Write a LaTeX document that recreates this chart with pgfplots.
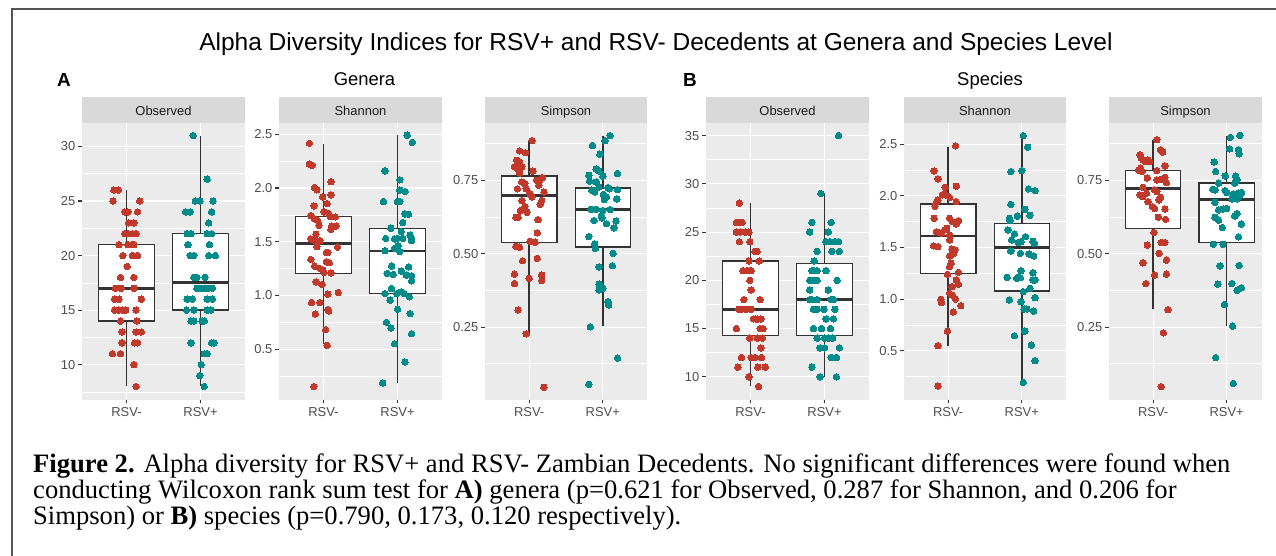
\documentclass[border=0pt]{standalone}
\usepackage{fontspec}
\setmainfont{Liberation Sans}
\newfontfamily\capfont{Liberation Serif}
\usepackage{pgfplots}
\pgfplotsset{compat=1.18}
\usepgfplotslibrary{statistics}
\definecolor{panelbg}{HTML}{EBEBEB}
\definecolor{stripbg}{HTML}{D9D9D9}
\definecolor{striptext}{HTML}{1A1A1A}
\definecolor{labgray}{HTML}{4D4D4D}
\definecolor{tickgray}{HTML}{333333}
\definecolor{boxline}{HTML}{333333}
\definecolor{rsvred}{HTML}{C0392B}
\definecolor{rsvteal}{HTML}{008B8B}
\definecolor{framegray}{HTML}{555555}
\pgfplotsset{
  ggpanel/.style n args={2}{
    scale only axis, width=#1, height=276bp, anchor=north west,
    xmin=0.4, xmax=2.6, xtick={1,2}, xticklabels={RSV-,RSV+},
    axis background/.style={fill=panelbg},
    axis x line*=bottom, axis y line*=left,
    axis line style={draw=panelbg, line width=0.1bp},
    tick align=outside, major tick length=4bp, minor tick length=0pt,
    tick style={draw=tickgray, line width=1.1bp},
    grid=both,
    major grid style={draw=white, line width=1.1bp},
    minor grid style={draw=white, line width=0.55bp},
    tick label style={font=\fontsize{13}{13}\selectfont, text=labgray},
    yticklabel style={anchor=east, inner sep=0pt, xshift=-2.5bp},
    xticklabel style={anchor=north, inner sep=0pt, yshift=-4bp},
    title={#2},
    every axis title/.style={at={(0.5,1)}, anchor=south, fill=stripbg,
      minimum width=#1, minimum height=26bp, inner sep=0pt,
      text height=12bp, text depth=0pt, text=striptext,
      font=\fontsize{13}{13}\selectfont},
  },
  ggbox/.style={draw=boxline, fill=white, line width=1.4bp,
    boxplot/draw direction=y,
    boxplot/box extend=0.75, boxplot/whisker extend=0,
    boxplot/every median/.style={line width=2.9bp}},
  ptred/.style={only marks, mark=*, color=rsvred, mark size=3.25bp, mark options={line width=0pt, fill=rsvred, draw=rsvred}},
  ptteal/.style={only marks, mark=*, color=rsvteal, mark size=3.25bp, mark options={line width=0pt, fill=rsvteal, draw=rsvteal}},
}
\begin{document}
\begin{tikzpicture}
\path[use as bounding box] (0bp,0bp) rectangle (1276bp,-556bp);
\draw[framegray, line width=2bp] (12bp,-570bp) -- (12bp,-9bp) -- (1290bp,-9bp);

\node[anchor=base, font=\fontsize{24.6}{24.6}\selectfont] at (656bp,-50bp)
  {Alpha Diversity Indices for RSV+ and RSV- Decedents at Genera and Species Level};
\node[anchor=base west, font=\fontsize{19}{19}\selectfont\bfseries, inner sep=0pt] at (57bp,-86.5bp) {A};
\node[anchor=base, font=\fontsize{18.5}{18.5}\selectfont] at (364.5bp,-85bp) {Genera};
\node[anchor=base west, font=\fontsize{19}{19}\selectfont\bfseries, inner sep=0pt] at (683bp,-86.5bp) {B};
\node[anchor=base, font=\fontsize{18.5}{18.5}\selectfont] at (990bp,-85bp) {Species};

% ---------- Genera: Observed
\begin{axis}[ggpanel={163bp}{Observed}, at={(82bp,-123bp)},
  ymin=6.85, ymax=32.15, ytick={10,15,20,25,30}, yticklabels={10,15,20,25,30},
  minor ytick={7.5,12.5,17.5,22.5,27.5}]
\addplot[ggbox, boxplot prepared={draw position=1, lower whisker=8, lower quartile=14, median=17, upper quartile=21, upper whisker=26}] coordinates {};
\addplot[ggbox, boxplot prepared={draw position=2, lower whisker=8, lower quartile=15, median=17.5, upper quartile=22, upper whisker=31}] coordinates {};
\addplot[ptred] coordinates {(0.83,26)(0.89,26)(0.82,25)(1.18,25)(0.98,24)(1.02,24)(1.15,24)(1.03,23)(1.10,23)(0.98,22)(1.02,22)(1.08,22)(1.13,22)(0.90,21)(1.02,21)(1.07,21)(1.10,21)(0.95,20)(1.08,20)(1.15,20)(1.01,19)(0.92,18)(1.10,18)(0.85,17)(0.93,17)(1.10,17)(0.84,16)(0.90,16)(1.20,16)(0.84,15)(0.89,15)(0.95,15)(0.99,15)(1.13,15)(0.92,14)(1.14,14)(0.94,13)(1.13,13)(1.20,13)(0.94,12)(1.11,12)(1.15,12)(0.81,11)(0.92,11)(1.10,10)(1.13,8)};
\addplot[ptteal] coordinates {(1.90,31)(2.09,27)(1.93,25)(1.99,25)(2.17,25)(1.80,24)(1.86,24)(2.15,24)(2.11,23)(1.82,22)(1.87,22)(2.09,22)(2.15,22)(1.83,21)(2.12,21)(1.86,20)(1.91,20)(2.11,20)(2.20,20)(1.91,18)(1.95,18)(2.06,18)(1.95,17)(2.00,17)(2.05,17)(2.10,17)(2.16,17)(1.82,16)(1.89,16)(2.09,16)(2.16,16)(1.81,15)(1.91,15)(2.09,15)(2.14,15)(1.87,14)(1.91,14)(2.02,14)(2.05,14)(1.87,12)(2.15,12)(2.18,12)(2.05,11)(2.09,11)(2.01,10)(1.99,9)(2.05,8)};
\end{axis}

% ---------- Genera: Shannon
\begin{axis}[ggpanel={163bp}{Shannon}, at={(279bp,-123bp)},
  ymin=0.035, ymax=2.605, ytick={0.5,1,1.5,2,2.5}, yticklabels={0.5,1.0,1.5,2.0,2.5},
  minor ytick={0.25,0.75,1.25,1.75,2.25}]
\addplot[ggbox, boxplot prepared={draw position=1, lower whisker=0.544, lower quartile=1.201, median=1.481, upper quartile=1.737, upper whisker=2.413}] coordinates {};
\addplot[ggbox, boxplot prepared={draw position=2, lower whisker=0.185, lower quartile=1.017, median=1.413, upper quartile=1.622, upper whisker=2.49}] coordinates {};
\addplot[ptred] coordinates {(0.81,2.416)(0.81,2.223)(0.85,2.210)(1.10,2.058)(0.88,2.005)(0.91,1.983)(0.99,1.917)(1.10,1.936)(1.05,1.855)(0.87,1.833)(1.01,1.777)(1.07,1.762)(1.09,1.734)(0.83,1.743)(0.88,1.712)(0.92,1.699)(1.16,1.731)(0.94,1.653)(1.11,1.646)(1.17,1.646)(1.10,1.615)(0.90,1.569)(0.95,1.509)(0.83,1.525)(0.88,1.512)(0.91,1.453)(1.19,1.450)(1.04,1.400)(1.06,1.400)(0.83,1.335)(1.04,1.313)(1.08,1.304)(0.88,1.273)(0.95,1.251)(0.99,1.235)(1.01,1.213)(1.10,1.210)(0.90,1.126)(0.98,1.101)(1.06,1.011)(1.20,1.027)(0.84,0.933)(0.95,0.933)(0.89,0.827)(1.06,0.868)(1.07,0.855)(1.03,0.681)(1.05,0.535)(0.87,0.151)};
\addplot[ptteal] coordinates {(2.13,2.491)(2.20,2.425)(1.83,2.160)(2.03,2.076)(2.03,1.980)(2.10,1.967)(1.81,1.874)(2.00,1.874)(2.03,1.874)(2.10,1.759)(2.15,1.755)(2.07,1.678)(1.91,1.625)(2.05,1.594)(2.17,1.562)(2.19,1.531)(2.19,1.509)(1.84,1.531)(1.96,1.525)(2.00,1.531)(2.07,1.531)(2.01,1.463)(1.96,1.438)(1.83,1.416)(2.03,1.407)(1.92,1.273)(2.15,1.266)(1.86,1.204)(1.94,1.195)(2.05,1.226)(2.12,1.188)(2.19,1.182)(2.19,1.135)(1.92,1.064)(1.83,1.017)(1.99,1.017)(2.05,1.033)(2.09,1.017)(2.16,0.986)(1.90,0.955)(2.00,0.871)(2.17,0.830)(1.85,0.749)(1.91,0.696)(2.19,0.643)(1.96,0.550)(2.10,0.379)(1.80,0.185)};
\end{axis}

% ---------- Genera: Simpson
\begin{axis}[ggpanel={162bp}{Simpson}, at={(485bp,-123bp)},
  ymin=0.005, ymax=0.945, ytick={0.25,0.5,0.75}, yticklabels={0.25,0.50,0.75},
  minor ytick={0.125,0.375,0.625,0.875}]
\addplot[ggbox, boxplot prepared={draw position=1, lower whisker=0.225, lower quartile=0.539, median=0.697, upper quartile=0.765, upper whisker=0.887}] coordinates {};
\addplot[ggbox, boxplot prepared={draw position=2, lower whisker=0.253, lower quartile=0.522, median=0.651, upper quartile=0.724, upper whisker=0.901}] coordinates {};
\addplot[ptred] coordinates {(1.04,0.885)(0.87,0.850)(0.95,0.844)(0.83,0.818)(0.87,0.813)(0.80,0.796)(0.84,0.790)(0.86,0.784)(0.90,0.796)(0.87,0.775)(1.05,0.781)(0.90,0.744)(0.94,0.739)(1.10,0.750)(1.15,0.752)(1.18,0.759)(1.13,0.733)(1.20,0.710)(0.84,0.721)(0.96,0.721)(1.01,0.704)(1.04,0.693)(0.90,0.681)(0.94,0.661)(1.15,0.668)(1.17,0.681)(0.82,0.624)(0.85,0.624)(0.97,0.641)(0.88,0.647)(1.12,0.616)(1.11,0.571)(1.01,0.542)(1.08,0.539)(0.82,0.525)(0.87,0.522)(0.91,0.476)(1.11,0.484)(0.80,0.430)(0.80,0.398)(1.00,0.416)(1.17,0.427)(1.17,0.408)(0.85,0.308)(0.96,0.227)(1.20,0.045)};
\addplot[ptteal] coordinates {(2.10,0.902)(2.03,0.885)(1.86,0.868)(1.96,0.839)(1.91,0.788)(1.95,0.781)(1.81,0.767)(2.20,0.773)(2.00,0.764)(1.82,0.747)(1.91,0.744)(1.95,0.727)(2.07,0.725)(2.09,0.721)(1.85,0.716)(1.89,0.710)(2.20,0.718)(2.01,0.702)(2.05,0.693)(2.02,0.684)(2.19,0.686)(1.84,0.651)(1.91,0.651)(2.00,0.647)(2.10,0.650)(1.98,0.630)(1.99,0.622)(1.88,0.613)(2.18,0.611)(2.05,0.602)(2.15,0.588)(1.81,0.558)(1.89,0.533)(1.90,0.518)(2.14,0.501)(1.95,0.455)(2.13,0.459)(1.95,0.396)(1.98,0.388)(1.95,0.376)(2.00,0.382)(2.07,0.337)(2.08,0.325)(1.83,0.251)(2.20,0.144)(1.81,0.055)};
\end{axis}

% ---------- Species: Observed
\begin{axis}[ggpanel={163bp}{Observed}, at={(706bp,-123bp)},
  ymin=7.7, ymax=36.3, ytick={10,15,20,25,30,35}, yticklabels={10,15,20,25,30,35},
  minor ytick={12.5,17.5,22.5,27.5,32.5}]
\addplot[ggbox, boxplot prepared={draw position=1, lower whisker=9, lower quartile=14.25, median=17, upper quartile=22, upper whisker=28}] coordinates {};
\addplot[ggbox, boxplot prepared={draw position=2, lower whisker=10, lower quartile=14.25, median=18, upper quartile=21.75, upper whisker=29}] coordinates {};
\addplot[ptred] coordinates {(0.85,28)(0.81,26)(0.85,26)(0.89,26)(0.81,25)(0.86,25)(0.93,25)(0.98,25)(0.85,24)(0.99,24)(1.06,23)(1.09,23)(0.98,22)(1.12,22)(0.90,21)(0.95,21)(0.99,21)(1.01,21)(0.99,20)(1.01,19)(0.91,18)(1.13,18)(0.84,17)(0.88,17)(0.94,17)(1.01,17)(1.04,16)(1.07,16)(1.10,16)(1.14,16)(0.81,15)(1.13,15)(1.17,15)(0.99,14)(1.09,14)(1.16,14)(1.14,13)(0.88,12)(1.01,12)(1.06,12)(1.15,12)(0.83,11)(1.10,11)(1.20,11)(0.98,10)(1.11,9)};
\addplot[ptteal] coordinates {(2.19,35)(1.95,29)(1.83,26)(2.09,26)(1.80,25)(2.05,25)(2.02,24)(2.07,24)(2.14,24)(2.19,24)(1.90,23)(2.10,23)(2.20,23)(1.86,22)(1.83,21)(1.86,21)(1.90,21)(2.02,21)(1.80,20)(1.85,20)(1.90,20)(2.17,20)(1.80,19)(2.05,19)(1.80,18)(1.83,18)(1.90,18)(2.09,18)(2.12,18)(1.85,17)(1.90,17)(1.99,17)(2.14,17)(2.02,16)(2.12,16)(1.85,15)(1.96,15)(2.08,15)(1.90,14)(2.00,14)(2.05,14)(2.11,14)(1.94,13)(2.00,13)(2.20,13)(2.09,12)(2.16,12)(1.83,11)(1.94,10)(2.16,10)};
\end{axis}

% ---------- Species: Shannon
\begin{axis}[ggpanel={162bp}{Shannon}, at={(904bp,-123bp)},
  ymin=0.032, ymax=2.706, ytick={0.5,1,1.5,2,2.5}, yticklabels={0.5,1.0,1.5,2.0,2.5},
  minor ytick={0.25,0.75,1.25,1.75,2.25}]
\addplot[ggbox, boxplot prepared={draw position=1, lower whisker=0.548, lower quartile=1.246, median=1.611, upper quartile=1.922, upper whisker=2.474}] coordinates {};
\addplot[ggbox, boxplot prepared={draw position=2, lower whisker=0.190, lower quartile=1.078, median=1.502, upper quartile=1.734, upper whisker=2.574}] coordinates {};
\addplot[ptred] coordinates {(1.10,2.484)(0.81,2.242)(0.86,2.164)(0.96,2.083)(1.11,2.093)(0.92,2.010)(0.95,2.020)(0.99,2.000)(1.02,1.985)(0.82,1.900)(0.84,1.940)(0.86,1.960)(1.11,1.944)(0.81,1.783)(1.02,1.783)(1.06,1.750)(1.14,1.760)(1.11,1.728)(0.84,1.653)(0.88,1.644)(0.91,1.637)(0.98,1.686)(0.95,1.670)(1.02,1.621)(0.80,1.515)(0.86,1.508)(1.02,1.573)(1.05,1.485)(1.09,1.476)(1.07,1.437)(1.02,1.418)(1.04,1.347)(1.02,1.314)(0.99,1.240)(1.14,1.259)(1.11,1.185)(1.14,1.143)(1.05,1.120)(1.02,1.056)(0.90,0.998)(0.91,0.965)(1.10,1.001)(1.05,1.040)(1.17,0.936)(1.07,0.875)(0.99,0.690)(0.86,0.548)(0.86,0.158)};
\addplot[ptteal] coordinates {(2.02,2.584)(2.08,2.471)(1.85,2.235)(2.00,2.245)(2.09,2.067)(2.18,2.051)(1.85,1.918)(2.04,1.870)(1.94,1.805)(2.11,1.812)(1.83,1.783)(1.84,1.760)(1.81,1.670)(1.90,1.631)(1.86,1.573)(2.05,1.605)(1.95,1.547)(1.99,1.557)(2.15,1.560)(2.17,1.540)(1.85,1.466)(1.98,1.443)(2.10,1.437)(2.16,1.418)(1.99,1.275)(1.95,1.211)(1.98,1.208)(1.80,1.211)(1.93,1.201)(2.15,1.256)(2.18,1.185)(2.15,1.185)(2.02,1.072)(2.11,1.104)(1.83,0.991)(1.99,0.975)(2.18,1.014)(2.03,0.904)(2.07,0.904)(2.16,0.884)(2.04,0.690)(1.90,0.645)(2.13,0.555)(2.18,0.403)(2.02,0.193)};
\end{axis}

% ---------- Species: Simpson
\begin{axis}[ggpanel={153bp}{Simpson}, at={(1109bp,-123bp)}, xmax=2.48,
  ymin=0.005, ymax=0.945, ytick={0.25,0.5,0.75}, yticklabels={0.25,0.50,0.75},
  minor ytick={0.125,0.375,0.625,0.875}]
\addplot[ggbox, boxplot prepared={draw position=1, lower whisker=0.310, lower quartile=0.585, median=0.723, upper quartile=0.784, upper whisker=0.887}] coordinates {};
\addplot[ggbox, boxplot prepared={draw position=2, lower whisker=0.255, lower quartile=0.538, median=0.683, upper quartile=0.741, upper whisker=0.901}] coordinates {};
\addplot[ptred] coordinates {(1.05,0.888)(0.82,0.837)(0.84,0.825)(0.86,0.819)(0.89,0.814)(0.91,0.816)(0.93,0.819)(0.95,0.814)(1.10,0.854)(1.13,0.846)(0.80,0.785)(0.83,0.791)(0.85,0.780)(1.05,0.783)(1.16,0.799)(0.92,0.758)(1.05,0.751)(1.10,0.753)(1.16,0.760)(1.18,0.742)(0.86,0.726)(1.02,0.717)(1.05,0.711)(0.91,0.706)(0.82,0.700)(0.86,0.694)(1.10,0.692)(1.08,0.683)(0.93,0.677)(0.99,0.660)(1.02,0.654)(1.16,0.652)(1.07,0.624)(1.17,0.617)(1.01,0.572)(0.92,0.529)(1.11,0.538)(1.16,0.538)(1.08,0.501)(1.18,0.478)(0.86,0.469)(1.18,0.430)(1.02,0.427)(0.90,0.398)(1.20,0.309)(1.14,0.230)(1.11,0.047)};
\addplot[ptteal] coordinates {(2.18,0.903)(2.05,0.896)(2.04,0.857)(2.16,0.854)(2.17,0.840)(1.83,0.812)(1.85,0.780)(1.98,0.765)(2.12,0.765)(2.14,0.751)(1.89,0.740)(2.11,0.740)(1.81,0.719)(1.84,0.717)(1.98,0.715)(2.00,0.708)(2.09,0.703)(2.16,0.706)(2.18,0.700)(2.20,0.708)(2.07,0.686)(2.14,0.687)(1.84,0.675)(1.95,0.652)(2.00,0.654)(1.89,0.649)(2.14,0.637)(2.11,0.628)(1.84,0.624)(1.89,0.614)(2.20,0.601)(1.94,0.589)(2.16,0.557)(1.82,0.532)(1.95,0.532)(1.91,0.458)(2.17,0.460)(1.88,0.396)(2.07,0.398)(2.14,0.375)(2.18,0.381)(2.20,0.384)(1.97,0.327)(2.08,0.253)(1.85,0.146)(2.09,0.058)};
\end{axis}

% ---------- caption
\node[anchor=base west, inner sep=0pt, font=\capfont\fontsize{26.7}{27}\selectfont] at (33bp,-472bp)
  {\textbf{Figure 2.} Alpha diversity for RSV+ and RSV- Zambian Decedents. No significant differences were found when};
\node[anchor=base west, inner sep=0pt, font=\capfont\fontsize{26.7}{27}\selectfont] at (33bp,-498bp)
  {conducting Wilcoxon rank sum test for \textbf{A)} genera (p=0.621 for Observed, 0.287 for Shannon, and 0.206 for};
\node[anchor=base west, inner sep=0pt, font=\capfont\fontsize{26.7}{27}\selectfont] at (33bp,-524bp)
  {Simpson) or \textbf{B)} species (p=0.790, 0.173, 0.120 respectively).};
\end{tikzpicture}
\end{document}
